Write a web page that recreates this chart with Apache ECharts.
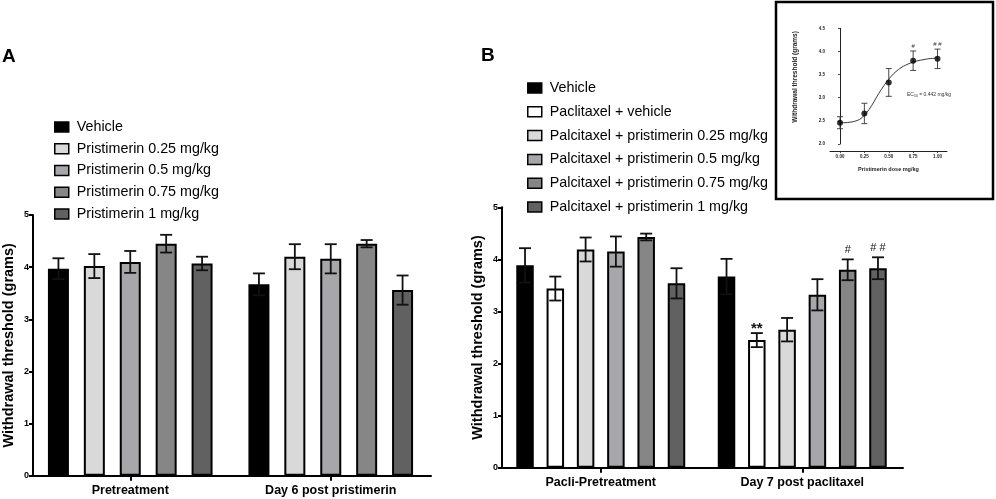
<!DOCTYPE html>
<html>
<head>
<meta charset="utf-8">
<script src="https://cdn.jsdelivr.net/npm/echarts@6/dist/echarts.min.js"></script>
<style>html,body{margin:0;padding:0;background:#fff}#c{width:996px;height:499px}</style>
</head>
<body>
<div id="c"></div>
<script>
// ---------- DATA ----------
const catsA = ['Pretreatment', 'Day 6 post pristimerin'];
const namesA = ['Vehicle', 'Pristimerin 0.25 mg/kg', 'Pristimerin 0.5 mg/kg', 'Pristimerin 0.75 mg/kg', 'Pristimerin 1 mg/kg'];
const meansA_pre = [3.97, 4.02, 4.10, 4.45, 4.07];
const errA_pre = [0.20, 0.23, 0.21, 0.17, 0.13];
const meansA_day6 = [3.67, 4.20, 4.16, 4.45, 3.56];
const errA_day6 = [0.21, 0.24, 0.28, 0.07, 0.28];

const catsB = ['Pacli-Pretreatment', 'Day 7 post paclitaxel'];
const namesB = ['Vehicle', 'Paclitaxel + vehicle', 'Palcitaxel + pristimerin 0.25 mg/kg', 'Palcitaxel + pristimerin 0.5 mg/kg', 'Palcitaxel + pristimerin 0.75 mg/kg', 'Palcitaxel + pristimerin 1 mg/kg'];
const meansB_pre = [3.885, 3.44, 4.19, 4.15, 4.43, 3.54];
const errB_pre = [0.33, 0.23, 0.23, 0.29, 0.065, 0.29];
const sigB_pre = ['', '', '', '', '', ''];
const meansB_d7 = [3.67, 2.45, 2.65, 3.32, 3.80, 3.83];
const errB_d7 = [0.34, 0.135, 0.225, 0.30, 0.20, 0.21];
const sigB_d7 = ['', '**', '', '', '#', '# #'];

// inset: dose-response
const doses = [0, 0.25, 0.5, 0.75, 1.0];
const doseMeans = [2.46, 2.66, 3.33, 3.80, 3.84];
const doseErr = [0.13, 0.22, 0.30, 0.21, 0.21];
const doseSig = ['', '', '', '#', '# #'];
const doseTicks = [0, 0.25, 0.5, 0.75, 1.0];
// fitted curve
const fitX = [0, 0.05, 0.10, 0.15, 0.20, 0.25, 0.30, 0.35, 0.40, 0.45, 0.50, 0.55, 0.60, 0.65, 0.70, 0.75, 0.80, 0.85, 0.90, 0.95, 1.00];
const fitY = [2.46, 2.46, 2.47, 2.49, 2.53, 2.62, 2.75, 2.92, 3.10, 3.26, 3.40, 3.52, 3.61, 3.68, 3.73, 3.77, 3.80, 3.82, 3.84, 3.85, 3.86];

const colorsA = ['#000000', '#d9d9d9', '#a6a6ab', '#868686', '#616161'];
const colorsB = ['#000000', '#ffffff', '#d9d9d9', '#a6a6ab', '#868686', '#616161'];

// ---------- BUILD ----------
const FONT = '"Liberation Sans", Arial, Helvetica, sans-serif';
const series = [];

function addBars(names, colors, preM, preE, postM, postE, preS, postS, gridIdx, bw, gapR, cap) {
  const n = names.length;
  names.forEach((nm, i) => {
    series.push({
      type: 'bar', name: nm, xAxisIndex: gridIdx, yAxisIndex: gridIdx,
      data: [preM[i], postM[i]], barWidth: bw, barGap: (gapR * 100) + '%',
      itemStyle: { color: colors[i], borderColor: '#000', borderWidth: 2 },
      z: 2
    });
    const sigs = [preS ? preS[i] : '', postS ? postS[i] : ''];
    series.push({
      type: 'custom', name: nm + ' err', xAxisIndex: gridIdx, yAxisIndex: gridIdx,
      data: [[0, preM[i], preE[i]], [1, postM[i], postE[i]]],
      encode: { x: 0, y: 1 }, z: 5, silent: true,
      renderItem: function (params, api) {
        const c = api.value(0), m = api.value(1), e = api.value(2);
        const base = api.coord([c, m]);
        const top = api.coord([c, m + e])[1];
        const bot = api.coord([c, m - e])[1];
        const total = n * bw + (n - 1) * bw * gapR;
        const x = base[0] - total / 2 + bw / 2 + i * bw * (1 + gapR);
        const st = { stroke: '#111', lineWidth: 1.8 };
        const ch = [
          { type: 'line', shape: { x1: x, y1: top, x2: x, y2: bot }, style: st },
          { type: 'line', shape: { x1: x - cap / 2, y1: top, x2: x + cap / 2, y2: top }, style: st },
          { type: 'line', shape: { x1: x - cap / 2, y1: bot, x2: x + cap / 2, y2: bot }, style: st }
        ];
        const s = sigs[params.dataIndex];
        if (s) {
          const isStar = s.indexOf('*') >= 0;
          ch.push({
            type: 'text', x: x, y: top - (isStar ? 4 : 9),
            style: { text: s, fontFamily: FONT, fontSize: isStar ? 15 : 11, fontWeight: isStar ? 'bold' : 'normal',
                     fill: '#111', align: 'center', verticalAlign: 'middle' }
          });
        }
        return { type: 'group', children: ch };
      }
    });
  });
}

addBars(namesA, colorsA, meansA_pre, errA_pre, meansA_day6, errA_day6, null, null, 0, 21, 0.71, 12);
addBars(namesB, colorsB, meansB_pre, errB_pre, meansB_d7, errB_d7, sigB_pre, sigB_d7, 1, 17.5, 0.731, 12);

// inset series
series.push({
  type: 'line', name: 'fit', xAxisIndex: 2, yAxisIndex: 2,
  data: fitX.map((x, k) => [x, fitY[k]]), showSymbol: false, smooth: 0.3,
  lineStyle: { color: '#222', width: 0.9 }, z: 3, silent: true
});
series.push({
  type: 'custom', name: 'dose err', xAxisIndex: 2, yAxisIndex: 2,
  data: doses.map((d, k) => [d, doseMeans[k], doseErr[k]]),
  encode: { x: 0, y: 1 }, z: 4, silent: true,
  renderItem: function (params, api) {
    const d = api.value(0), m = api.value(1), e = api.value(2);
    const x = api.coord([d, m])[0];
    const top = api.coord([d, m + e])[1];
    const bot = api.coord([d, m - e])[1];
    const cap = 6;
    const st = { stroke: '#333', lineWidth: 0.9 };
    const ch = [
      { type: 'line', shape: { x1: x, y1: top, x2: x, y2: bot }, style: st },
      { type: 'line', shape: { x1: x - cap / 2, y1: top, x2: x + cap / 2, y2: top }, style: st },
      { type: 'line', shape: { x1: x - cap / 2, y1: bot, x2: x + cap / 2, y2: bot }, style: st }
    ];
    const s = doseSig[params.dataIndex];
    if (s) {
      ch.push({ type: 'text', x: x, y: top - 5,
        style: { text: s, fontFamily: FONT, fontSize: 6, fill: '#333', align: 'center', verticalAlign: 'middle' } });
    }
    return { type: 'group', children: ch };
  }
});
series.push({
  type: 'scatter', name: 'dose mean', xAxisIndex: 2, yAxisIndex: 2,
  data: doses.map((d, k) => [d, doseMeans[k]]), symbolSize: 6,
  itemStyle: { color: '#000' }, z: 6, silent: true
});

const axisLineMain = { show: true, lineStyle: { color: '#000', width: 2 } };
const tickMain = (len) => ({ show: true, length: len, lineStyle: { color: '#000', width: 2 } });

function catAxis(gi, cats) {
  return {
    gridIndex: gi, type: 'category', data: cats,
    axisLine: axisLineMain, axisTick: Object.assign(tickMain(5), { alignWithLabel: true }),
    axisLabel: { fontFamily: FONT, fontSize: 12.5, fontWeight: 'bold', color: '#000', margin: 8 },
    splitLine: { show: false }
  };
}
function valAxis(gi, off) {
  return {
    gridIndex: gi, type: 'value', min: 0, max: 5, interval: 1, offset: off,
    axisLine: axisLineMain, axisTick: tickMain(4),
    axisLabel: { fontFamily: FONT, fontSize: 9, fontWeight: 'bold', color: '#000', margin: 4 },
    splitLine: { show: false },
    name: 'Withdrawal threshold (grams)', nameLocation: 'middle', nameGap: 17,
    nameTextStyle: { fontFamily: FONT, fontSize: 14.5, fontWeight: 'bold', color: '#000' }
  };
}

const legendCommon = {
  orient: 'vertical', itemWidth: 14, itemHeight: 10, icon: 'rect', padding: 0,
  itemStyle: { borderColor: '#000', borderWidth: 1.5 },
  textStyle: { fontFamily: FONT, fontSize: 14.3, color: '#000', lineHeight: 16, padding: [0, 0, 0, 3] },
  selectedMode: false
};

const option = {
  animation: false,
  backgroundColor: '#fff',
  grid: [
    { left: 29, top: 215, width: 402, height: 260.7 },
    { left: 500, top: 207.3, width: 403, height: 260.4 },
    { left: 830, top: 28.3, width: 117, height: 115.7 }
  ],
  xAxis: [
    catAxis(0, catsA),
    catAxis(1, catsB),
    {
      gridIndex: 2, type: 'value', min: -0.1026, max: 1.0974, offset: 7,
      axisLine: { show: true, lineStyle: { color: '#222', width: 1 } },
      axisTick: { show: true, length: 2, customValues: doseTicks, lineStyle: { color: '#222', width: 0.8 } },
      axisLabel: { customValues: doseTicks, formatter: v => Number(v).toFixed(2), fontFamily: FONT, fontSize: 4.5, fontWeight: 'bold', color: '#222', margin: 3 },
      splitLine: { show: false },
      name: 'Pristimerin dose mg/kg', nameLocation: 'middle', nameGap: 15,
      nameTextStyle: { fontFamily: FONT, fontSize: 5.5, fontWeight: 'bold', color: '#222' }
    }
  ],
  yAxis: [
    valAxis(0, -3),
    valAxis(1, -2),
    {
      gridIndex: 2, type: 'value', min: 2, max: 4.5, interval: 0.5, offset: 2,
      axisLine: { show: true, lineStyle: { color: '#222', width: 1 } },
      axisTick: { show: true, length: 2, lineStyle: { color: '#222', width: 0.8 } },
      axisLabel: { formatter: v => Number(v).toFixed(1), fontFamily: FONT, fontSize: 4.5, fontWeight: 'bold', color: '#222', margin: 3 },
      splitLine: { show: false }
    }
  ],
  legend: [
    Object.assign({}, legendCommon, { data: namesA, left: 54, top: 119, itemGap: 5.75 }),
    Object.assign({}, legendCommon, { data: namesB, left: 527, top: 80, itemGap: 7.8 })
  ],
  graphic: [
    { type: 'text', left: 2, top: 47, style: { text: 'A', fontFamily: FONT, fontSize: 19, fontWeight: 'bold', fill: '#000' } },
    { type: 'text', left: 481, top: 46, style: { text: 'B', fontFamily: FONT, fontSize: 19, fontWeight: 'bold', fill: '#000' } },
    { type: 'rect', shape: { x: 776, y: 2, width: 217, height: 197 }, style: { fill: 'none', stroke: '#000', lineWidth: 2.5 }, z: 10 },
    { type: 'text', x: 795, y: 77, rotation: Math.PI / 2,
      style: { text: 'Withdrawal threshold (grams)', fontFamily: FONT, fontSize: 6.5, fontWeight: 'bold', fill: '#222', align: 'center', verticalAlign: 'middle' } },
    { type: 'text', x: 907, y: 95,
      style: { text: '{a|EC}{s|50}{a| = 0.442 mg/kg}', verticalAlign: 'middle',
        rich: { a: { fontFamily: FONT, fontSize: 5, fill: '#333' }, s: { fontFamily: FONT, fontSize: 3.5, fill: '#333', padding: [3, 0, 0, 0] } } } }
  ],
  series: series
};

const chart = echarts.init(document.getElementById('c'), null, { renderer: 'canvas' });
chart.setOption(option);
</script>
</body>
</html>
